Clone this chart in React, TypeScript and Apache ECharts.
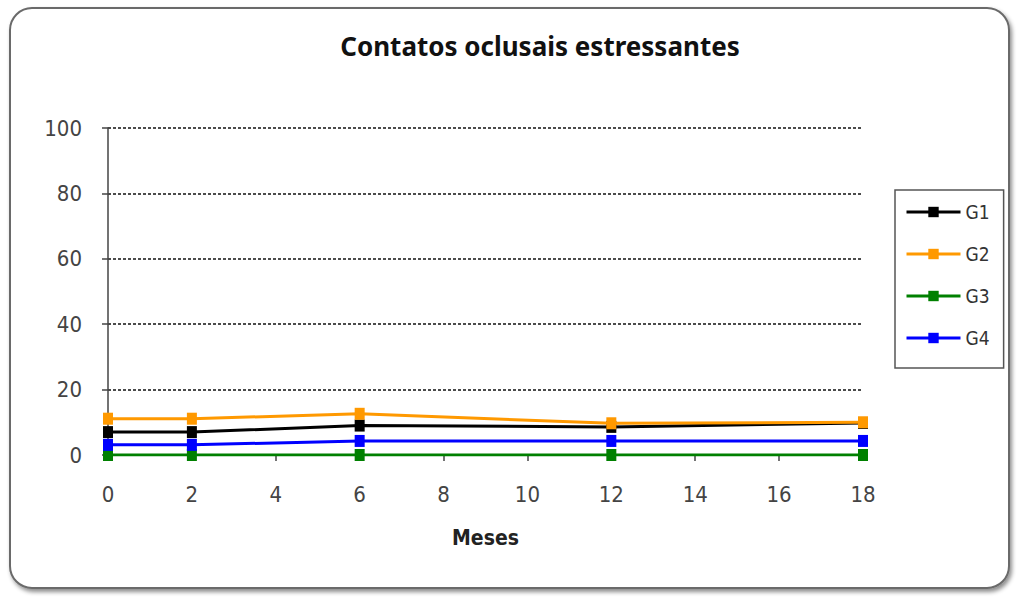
import React, { useEffect, useRef } from "react";
import * as echarts from "echarts";

const months = [0, 2, 6, 12, 18];
const g1 = [7, 7, 9, 8.6, 9.8];
const g2 = [11.1, 11.1, 12.6, 9.7, 10];
const g3 = [0, 0, 0, 0, 0];
const g4 = [3.1, 3.1, 4.3, 4.3, 4.3];
const seriesNames = ["G1", "G2", "G3", "G4"];
const seriesColors = ["#000000", "#ff9900", "#008000", "#0000ff"];
const titleText = "Contatos oclusais estressantes";
const xName = "Meses";

export default function App() {
  const ref = useRef<HTMLDivElement>(null);
  useEffect(() => {
    if (!ref.current) return;
    const chart = echarts.init(ref.current, null, { renderer: "svg" });
    const all = [g1, g2, g3, g4];
    const labelFont = "'DejaVu Sans Condensed', 'Liberation Sans Narrow', Arial, sans-serif";
    chart.setOption({
      animation: false,
      backgroundColor: "#ffffff",
      graphic: [
        {
          type: "rect",
          z: -10,
          shape: { x: 10, y: 8, width: 999, height: 580, r: 22 },
          style: {
            fill: "#ffffff",
            stroke: "#6a6a6a",
            lineWidth: 2,
            shadowColor: "rgba(0,0,0,0.45)",
            shadowBlur: 4,
            shadowOffsetX: 2,
            shadowOffsetY: 3,
          },
        },
      ],
      title: {
        text: titleText,
        left: 535,
        textAlign: "center",
        top: 28,
        textStyle: {
          fontFamily: "'Noto Sans', sans-serif",
          fontWeight: "bold",
          fontSize: 26,
          color: "#111",
        },
      },
      legend: {
        orient: "vertical",
        left: 895,
        top: 190,
        padding: [11, 14, 19, 10],
        itemGap: 20,
        itemWidth: 54,
        itemHeight: 13,
        borderColor: "#555",
        borderWidth: 1.5,
        data: seriesNames,
        lineStyle: { width: 3 },
        textStyle: {
          fontFamily: labelFont,
          fontSize: 19,
          color: "#333",
          lineHeight: 22,
        },
      },
      grid: { left: 108, right: 156, top: 128, bottom: 144 },
      xAxis: {
        type: "value",
        min: 0,
        max: 18,
        interval: 2,
        name: xName,
        nameLocation: "middle",
        nameGap: 72,
        nameTextStyle: {
          fontFamily: labelFont,
          fontWeight: "bold",
          fontSize: 21,
          color: "#222",
        },
        axisLine: { show: true, lineStyle: { color: "#555", width: 1.5 } },
        axisTick: { show: true, length: 6, lineStyle: { color: "#444", width: 1.5 } },
        axisLabel: {
          margin: 28,
          fontFamily: labelFont,
          fontSize: 22,
          color: "#444",
        },
        splitLine: { show: false },
      },
      yAxis: {
        type: "value",
        min: 0,
        max: 100,
        interval: 20,
        axisLine: { show: true, lineStyle: { color: "#444", width: 1.5 } },
        axisTick: { show: true, length: 6, lineStyle: { color: "#444", width: 1.5 } },
        axisLabel: {
          margin: 26,
          fontFamily: labelFont,
          fontSize: 22,
          color: "#444",
        },
        splitLine: {
          show: true,
          lineStyle: { color: "#111", width: 1.5, type: [3, 2] },
        },
      },
      series: seriesNames.map((n, i) => ({
        name: n,
        type: "line",
        data: months.map((m, j) => [m, all[i][j]]),
        symbol: "rect",
        symbolSize: [10, 12],
        color: seriesColors[i],
        lineStyle: { width: 3, color: seriesColors[i] },
        itemStyle: { color: seriesColors[i] },
        z: 2 + (i === 2 ? 0 : i),
      })),
    });
    return () => chart.dispose();
  }, []);
  return (
    <div
      ref={ref}
      style={{ position: "fixed", left: 0, top: 0, width: 1019, height: 599 }}
    />
  );
}
